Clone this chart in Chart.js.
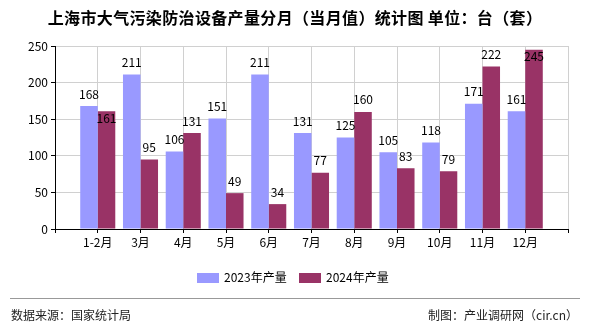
<!DOCTYPE html>
<html>
<head>
<meta charset="utf-8">
<script src="https://cdn.jsdelivr.net/npm/chart.js@4/dist/chart.umd.min.js"></script>
<style>
  html, body { margin: 0; padding: 0; background: #fff; }
  #wrap { position: relative; width: 590px; height: 330px; overflow: hidden;
          font-family: "Noto Sans CJK SC", "DejaVu Sans", sans-serif; }
  #title { position: absolute; left: 0; top: 5px; width: 590px; text-align: center;
           font-size: 16px; font-weight: bold; letter-spacing: 0.35px; color: #000; white-space: nowrap; }
  #chart { position: absolute; left: 0; top: 0; }
  #legend { position: absolute; top: 268px; left: 0; width: 590px; font-size: 12px; color: #000; }
  .item { position: absolute; top: 0; line-height: 18px; white-space: nowrap; }
  .sw { display: inline-block; width: 22px; height: 10px; vertical-align: -1px; margin-right: 5px; }
  #rule { position: absolute; left: 10px; top: 298px; width: 570px; height: 1px; background: #999; }
  .foot { position: absolute; top: 306px; font-size: 12px; color: #222; white-space: nowrap; }
</style>
</head>
<body>
<div id="wrap">
  <canvas id="chart" width="590" height="330"></canvas>
  <div id="title">上海市大气污染防治设备产量分月（当月值）统计图 单位：台（套）</div>
  <div id="legend">
    <div class="item" style="left:197px"><span class="sw" style="background:#9999FF"></span>2023年产量</div>
    <div class="item" style="left:299px"><span class="sw" style="background:#993366"></span>2024年产量</div>
  </div>
  <div id="rule"></div>
  <div class="foot" style="left:11px">数据来源：国家统计局</div>
  <div class="foot" style="right:12px">制图：产业调研网（cir.cn）</div>
</div>
<script>
const months = ["1-2月", "3月", "4月", "5月", "6月", "7月", "8月", "9月", "10月", "11月", "12月"];
const output2023 = [168, 211, 106, 151, 211, 131, 125, 105, 118, 171, 161];
const output2024 = [161, 95, 131, 49, 34, 77, 160, 83, 79, 222, 245];
const yTicks = [0, 50, 100, 150, 200, 250];

// empty slot on each side so the month ticks sit between the axis ends
const labels = ["", ...months, ""];
const pad = arr => [null, ...arr, null];

const FONT = '"Noto Sans CJK SC", "DejaVu Sans", sans-serif';

// value labels above each bar; pushed inside the bar when they would collide
const valueLabels = {
  id: "valueLabels",
  afterDatasetsDraw(chart) {
    const ctx = chart.ctx;
    const area = chart.chartArea;
    ctx.save();
    ctx.font = "12px " + FONT;
    ctx.fillStyle = "#000";
    ctx.textAlign = "center";
    ctx.textBaseline = "middle";
    const m0 = chart.getDatasetMeta(0).data;
    const m1 = chart.getDatasetMeta(1).data;
    const d0 = chart.data.datasets[0].data;
    const d1 = chart.data.datasets[1].data;
    for (let i = 0; i < labels.length; i++) {
      if (d0[i] == null) continue;
      let y0 = m0[i].y - 12;
      let y1 = m1[i].y - 12;
      if (y0 - 7 < area.top) y0 = m0[i].y + 7;
      if (y1 - 7 < area.top) y1 = m1[i].y + 7;
      if (Math.abs(y0 - y1) < 14) {
        if (d0[i] < d1[i]) y0 = m0[i].y + 7; else y1 = m1[i].y + 7;
      }
      ctx.fillText(String(d0[i]), m0[i].x, y0);
      ctx.fillText(String(d1[i]), m1[i].x, y1);
    }
    ctx.restore();
  }
};

new Chart(document.getElementById("chart"), {
  type: "bar",
  data: {
    labels: labels,
    datasets: [
      { label: "2023年产量", data: pad(output2023), backgroundColor: "#9999FF" },
      { label: "2024年产量", data: pad(output2024), backgroundColor: "#993366" }
    ]
  },
  options: {
    responsive: false,
    animation: false,
    layout: { padding: { top: 46, right: 22, bottom: 81, left: 0 } },
    datasets: { bar: { categoryPercentage: 0.82, barPercentage: 1 } },
    plugins: {
      legend: { display: false },
      title: { display: false },
      tooltip: { enabled: false }
    },
    scales: {
      x: {
        offset: false,
        grid: { offset: false, color: "#d0d0d0", tickColor: "#000", tickLength: 4 },
        border: { color: "#000" },
        ticks: { color: "#000", font: { size: 12, family: FONT }, padding: 2, maxRotation: 0, autoSkip: false },
        afterFit(scale) { scale.height = 20; }
      },
      y: {
        min: 0,
        max: 250,
        afterBuildTicks(scale) { scale.ticks = yTicks.map(v => ({ value: v })); },
        grid: { color: "#d0d0d0", tickColor: "#000", tickLength: 4 },
        border: { color: "#000" },
        ticks: { color: "#000", font: { size: 12, family: FONT }, padding: 3 },
        afterFit(scale) { scale.width = 55; }
      }
    }
  },
  plugins: [valueLabels]
});
</script>
</body>
</html>
